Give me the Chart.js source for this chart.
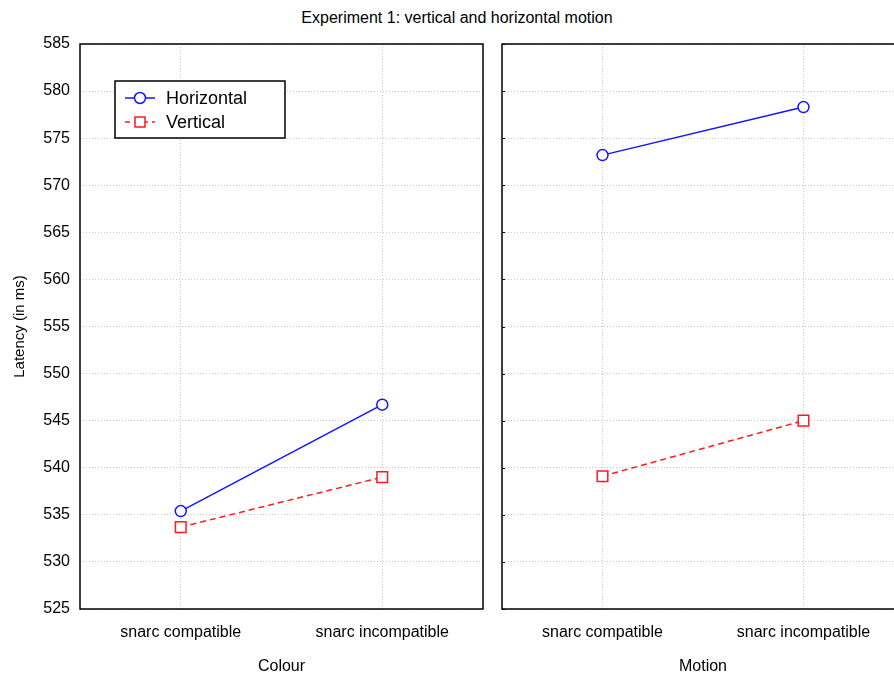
<!DOCTYPE html>
<html>
<head>
<meta charset="utf-8">
<script src="https://cdn.jsdelivr.net/npm/chart.js@4"></script>
<style>
  html, body { margin: 0; padding: 0; background: #fff; }
  body { width: 894px; height: 680px; overflow: hidden; position: relative; font-family: "Liberation Sans", Arial, sans-serif; }
  #titulo { position: absolute; left: 0; top: 9px; width: 914px; text-align: center; font-size: 16px; color: #000; }
  #graficoColour { position: absolute; left: 0; top: 0; }
  #graficoMotion { position: absolute; left: 490px; top: 0; }
</style>
</head>
<body>
<div id="titulo">Experiment 1: vertical and horizontal motion</div>
<canvas id="graficoColour" width="490" height="680"></canvas>
<canvas id="graficoMotion" width="424" height="680"></canvas>
<script>
// dados
const categorias = ['snarc compatible', 'snarc incompatible'];
const colourHorizontal = [535.4, 546.7];
const colourVertical = [533.7, 539.0];
const motionHorizontal = [573.2, 578.3];
const motionVertical = [539.1, 545.0];
const yMin = 525;
const yMax = 585;
const yPasso = 5;

const fonte = '"Liberation Sans", Arial, sans-serif';
const azul = '#1414ff';
const vermelho = '#ff1a1a';
const corGrade = '#c8c8c8';

// moldura preta em volta da área do gráfico
const moldura = {
    id: 'moldura',
    beforeDatasetsDraw(chart, args, opts) {
        const a = chart.chartArea;
        const ctx = chart.ctx;
        ctx.save();
        ctx.strokeStyle = '#000';
        ctx.lineWidth = 1.5;
        ctx.strokeRect(a.left, a.top, a.right - a.left, a.bottom - a.top);
        if (opts.ticksInternos) {
            const y = chart.scales.y;
            ctx.lineWidth = 1;
            y.ticks.forEach(t => {
                const py = Math.round(y.getPixelForValue(t.value)) + 0.5;
                ctx.beginPath();
                ctx.moveTo(a.left, py);
                ctx.lineTo(a.left + 3, py);
                ctx.stroke();
            });
        }
        ctx.restore();
    }
};

// legenda dentro do painel esquerdo
const legendaInterna = {
    id: 'legendaInterna',
    afterDraw(chart) {
        const ctx = chart.ctx;
        ctx.save();
        ctx.fillStyle = '#fff';
        ctx.fillRect(115, 81, 170, 57);
        ctx.strokeStyle = '#000';
        ctx.lineWidth = 1.5;
        ctx.strokeRect(115, 81, 170, 57);

        ctx.font = '18px ' + fonte;
        ctx.textBaseline = 'middle';

        // Horizontal
        ctx.strokeStyle = azul;
        ctx.lineWidth = 1.5;
        ctx.beginPath();
        ctx.moveTo(125, 98);
        ctx.lineTo(155, 98);
        ctx.stroke();
        ctx.fillStyle = '#fff';
        ctx.beginPath();
        ctx.arc(140, 98, 5.5, 0, Math.PI * 2);
        ctx.fill();
        ctx.stroke();
        ctx.fillStyle = '#000';
        ctx.fillText('Horizontal', 166, 99);

        // Vertical
        ctx.strokeStyle = vermelho;
        ctx.setLineDash([5, 4]);
        ctx.beginPath();
        ctx.moveTo(125, 122);
        ctx.lineTo(155, 122);
        ctx.stroke();
        ctx.setLineDash([]);
        ctx.fillStyle = '#fff';
        ctx.fillRect(135, 117, 10, 10);
        ctx.strokeRect(135, 117, 10, 10);
        ctx.fillStyle = '#000';
        ctx.fillText('Vertical', 166, 123);
        ctx.restore();
    }
};

function criarSeries(horizontal, vertical) {
    return [
        {
            label: 'Horizontal',
            data: horizontal,
            borderColor: azul,
            borderWidth: 1.5,
            pointStyle: 'circle',
            pointRadius: 5.5,
            pointBorderWidth: 1.5,
            pointBackgroundColor: '#fff',
            pointBorderColor: azul,
            tension: 0
        },
        {
            label: 'Vertical',
            data: vertical,
            borderColor: vermelho,
            borderWidth: 1.5,
            borderDash: [6, 4],
            pointStyle: 'rect',
            pointRadius: 7.5,
            pointBorderWidth: 1.5,
            pointBackgroundColor: '#fff',
            pointBorderColor: vermelho,
            tension: 0
        }
    ];
}

function criarGrafico(id, horizontal, vertical, tituloX, mostrarY) {
    const ctx = document.getElementById(id).getContext('2d');
    return new Chart(ctx, {
        type: 'line',
        data: {
            labels: categorias,
            datasets: criarSeries(horizontal, vertical)
        },
        options: {
            responsive: false,
            animation: false,
            layout: {
                autoPadding: false,
                padding: { top: 44, bottom: 0, left: mostrarY ? 0 : 12, right: mostrarY ? 7 : 10 }
            },
            plugins: {
                legend: { display: false },
                tooltip: { enabled: false },
                moldura: { ticksInternos: !mostrarY }
            },
            scales: {
                x: {
                    offset: true,
                    grid: { color: corGrade, drawTicks: false, offset: false },
                    border: { display: false, dash: [1, 2] },
                    ticks: { color: '#000', font: { family: fonte, size: 16 }, padding: 14, maxRotation: 0 },
                    title: { display: true, text: tituloX, color: '#000', font: { family: fonte, size: 16 }, padding: { top: 19 } },
                    afterFit(scale) { scale.height = 71; }
                },
                y: {
                    min: yMin,
                    max: yMax,
                    grid: { color: corGrade, drawTicks: false },
                    border: { display: false, dash: [1, 2] },
                    ticks: {
                        display: mostrarY,
                        stepSize: yPasso,
                        color: '#000',
                        font: { family: fonte, size: 16 },
                        padding: 10
                    },
                    title: {
                        display: mostrarY,
                        text: 'Latency (in ms)',
                        color: '#000',
                        font: { family: fonte, size: 15 },
                        padding: { top: 11, bottom: 0 }
                    },
                    afterFit(scale) { scale.width = mostrarY ? 80 : 0; }
                }
            }
        },
        plugins: mostrarY ? [moldura, legendaInterna] : [moldura]
    });
}

criarGrafico('graficoColour', colourHorizontal, colourVertical, 'Colour', true);
criarGrafico('graficoMotion', motionHorizontal, motionVertical, 'Motion', false);
</script>
</body>
</html>
